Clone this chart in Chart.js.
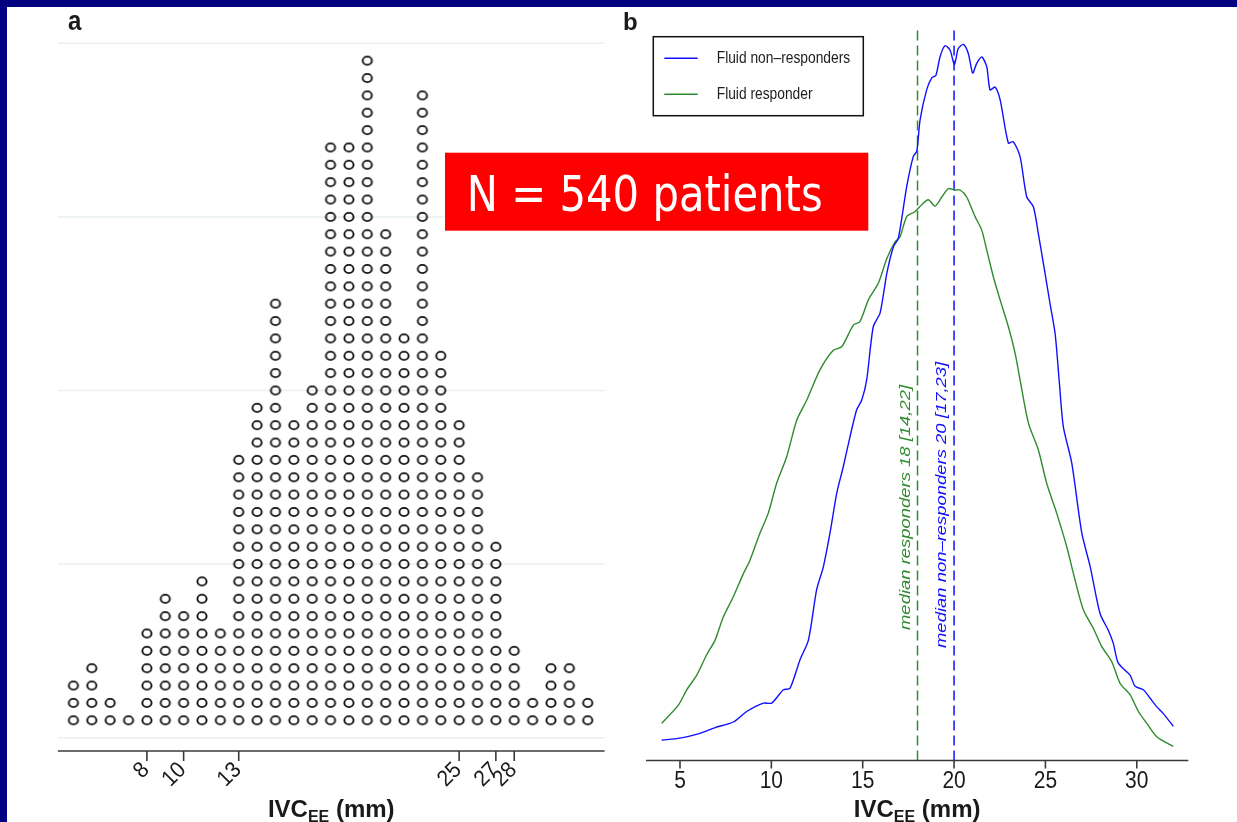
<!DOCTYPE html>
<html>
<head>
<meta charset="utf-8">
<script src="https://cdn.jsdelivr.net/npm/chart.js@4.4.1/dist/chart.umd.min.js"></script>
<style>
  html, body { margin: 0; padding: 0; background: #000080; }
  #page { position: relative; width: 1237px; height: 822px; overflow: hidden; }
  #sheet { position: absolute; left: 7px; top: 7px; right: 0; bottom: 0; background: #fff; }
  canvas { position: absolute; left: 0; top: 0; }
</style>
</head>
<body>
<div id="page">
  <div id="sheet"></div>
  <canvas id="dots" width="1237" height="822"></canvas>
  <canvas id="dens" width="1237" height="822"></canvas>
</div>
<script>
// panel a: one circle per patient, stacked per IVC value (mm)
var ivcValues = [4, 5, 6, 7, 8, 9, 10, 11, 12, 13, 14, 15, 16, 17, 18, 19, 20, 21, 22, 23, 24, 25, 26, 27, 28, 29, 30, 31, 32];
var dotCounts = [3, 4, 2, 1, 6, 8, 7, 9, 6, 16, 19, 25, 18, 20, 34, 34, 39, 29, 23, 37, 22, 18, 15, 11, 5, 2, 4, 4, 2];
var dotTicks = [8, 10, 13, 25, 27, 28];
var dotGrid = [0, 10, 20, 30, 40];

// panel b: density curves
var nonRespX = [4.00, 5.00, 6.00, 6.92, 7.92, 8.65, 9.56, 10.02, 10.66, 11.02, 11.57, 12.03, 12.48, 12.85, 13.21, 13.58, 13.94, 14.31, 14.67, 14.95, 15.22, 15.58, 15.95, 16.32, 16.68, 16.95, 17.41, 17.77, 17.96, 18.14, 18.50, 18.78, 19.01, 19.23, 19.50, 19.78, 20.02, 20.23, 20.51, 20.78, 21.02, 21.24, 21.52, 21.79, 21.97, 22.24, 22.52, 22.97, 23.24, 23.61, 23.98, 24.34, 24.61, 24.98, 25.25, 25.53, 25.75, 25.98, 26.44, 26.99, 27.45, 27.99, 28.44, 28.72, 28.99, 29.63, 29.91, 30.36, 30.73, 31.09, 31.45, 32.00];
var nonRespY = [0.0029, 0.0032, 0.0038, 0.0047, 0.0055, 0.0070, 0.0082, 0.0082, 0.0101, 0.0103, 0.0144, 0.0172, 0.0244, 0.0277, 0.0325, 0.0382, 0.0420, 0.0463, 0.0501, 0.0515, 0.0544, 0.0620, 0.0639, 0.0696, 0.0734, 0.0746, 0.0820, 0.0863, 0.0870, 0.0915, 0.0958, 0.0975, 0.0979, 0.1005, 0.1021, 0.1015, 0.0994, 0.1017, 0.1023, 0.1010, 0.0982, 0.0996, 0.1005, 0.0991, 0.0958, 0.0962, 0.0944, 0.0882, 0.0884, 0.0863, 0.0805, 0.0791, 0.0753, 0.0696, 0.0653, 0.0610, 0.0544, 0.0477, 0.0425, 0.0325, 0.0277, 0.0210, 0.0186, 0.0167, 0.0139, 0.0122, 0.0106, 0.0101, 0.0089, 0.0077, 0.0067, 0.0049];
var respX = [4.00, 4.91, 5.37, 5.92, 6.46, 6.92, 7.37, 7.92, 8.47, 8.83, 9.38, 9.83, 10.29, 10.84, 11.39, 11.94, 12.66, 13.39, 13.85, 14.49, 14.85, 15.31, 15.86, 16.32, 16.77, 17.04, 17.41, 17.86, 18.23, 18.59, 18.96, 19.33, 19.69, 20.05, 20.33, 20.69, 21.15, 21.51, 21.79, 22.15, 22.52, 22.97, 23.34, 23.61, 24.07, 24.61, 25.07, 25.62, 26.17, 26.62, 27.08, 27.62, 28.08, 28.63, 29.09, 29.63, 30.09, 30.55, 31.09, 32.00];
var respY = [0.0053, 0.0079, 0.0101, 0.0122, 0.0151, 0.0172, 0.0205, 0.0234, 0.0267, 0.0286, 0.0325, 0.0353, 0.0396, 0.0434, 0.0486, 0.0515, 0.0558, 0.0586, 0.0591, 0.0622, 0.0627, 0.0658, 0.0682, 0.0717, 0.0741, 0.0748, 0.0777, 0.0784, 0.0794, 0.0801, 0.0792, 0.0805, 0.0817, 0.0815, 0.0815, 0.0805, 0.0777, 0.0758, 0.0729, 0.0691, 0.0658, 0.0620, 0.0582, 0.0544, 0.0482, 0.0444, 0.0396, 0.0353, 0.0305, 0.0258, 0.0215, 0.0189, 0.0163, 0.0141, 0.0110, 0.0094, 0.0070, 0.0053, 0.0034, 0.0020];
var densTicks = [5, 10, 15, 20, 25, 30];
var medianResp = 18;
var medianNonResp = 20;
var densTop = 0.10464;

var BLUE = "#1010ff";
var GREEN = "#2e8b2e";
var AXIS = "#3a3a3a";
var FONT = "'Liberation Sans', Arial, sans-serif";

function drawText(ctx, s, x, y, o) {
  ctx.save();
  ctx.translate(x, y);
  if (o.rot) ctx.rotate(o.rot);
  ctx.scale(o.sx || 1, o.sy || 1);
  ctx.font = o.font;
  ctx.fillStyle = o.color || "#222";
  ctx.textAlign = o.align || "left";
  ctx.textBaseline = o.base || "alphabetic";
  ctx.fillText(s, 0, 0);
  ctx.restore();
}

function drawTitle(ctx, cx, baseY) {
  var big = "bold 24px " + FONT, small = "bold 16px " + FONT;
  ctx.save();
  ctx.font = big;
  var w1 = ctx.measureText("IVC").width;
  var w3 = ctx.measureText(" (mm)").width;
  ctx.font = small;
  var w2 = ctx.measureText("EE").width;
  ctx.restore();
  var x = cx - (w1 + w2 + w3) / 2;
  drawText(ctx, "IVC", x, baseY, { font: big, color: "#1a1a1a" });
  drawText(ctx, "EE", x + w1, baseY + 4.5, { font: small, color: "#1a1a1a" });
  drawText(ctx, " (mm)", x + w1 + w2, baseY, { font: big, color: "#1a1a1a" });
}

function hLine(ctx, x1, x2, y, color, w) {
  ctx.save();
  ctx.strokeStyle = color;
  ctx.lineWidth = w;
  ctx.beginPath();
  ctx.moveTo(x1, y);
  ctx.lineTo(x2, y);
  ctx.stroke();
  ctx.restore();
}

// open circle, a little flatter than wide like the original
var dotImg = document.createElement("canvas");
dotImg.width = 14;
dotImg.height = 14;
(function () {
  var c = dotImg.getContext("2d");
  c.strokeStyle = "#111";
  c.lineWidth = 1.9;
  c.beginPath();
  c.ellipse(7, 7, 4.6, 4.1, 0, 0, Math.PI * 2);
  c.stroke();
})();

var dotPoints = [];
ivcValues.forEach(function (v, i) {
  for (var k = 1; k <= dotCounts[i]; k++) dotPoints.push({ x: v, y: k });
});

var dotAxes = {
  id: "dotAxes",
  beforeDatasetsDraw: function (chart) {
    var ctx = chart.ctx, xs = chart.scales.x, ys = chart.scales.y;
    dotGrid.forEach(function (g) {
      hLine(ctx, xs.left, xs.right, ys.getPixelForValue(g), "#e9f0f0", 1.5);
    });
  },
  afterDraw: function (chart) {
    var ctx = chart.ctx, xs = chart.scales.x, ys = chart.scales.y;
    var y0 = ys.bottom;
    hLine(ctx, xs.left, xs.right, y0, AXIS, 1.6);
    ctx.save();
    ctx.strokeStyle = AXIS;
    ctx.lineWidth = 1.6;
    dotTicks.forEach(function (t) {
      var px = xs.getPixelForValue(t);
      ctx.beginPath();
      ctx.moveTo(px, y0);
      ctx.lineTo(px, y0 + 10);
      ctx.stroke();
    });
    ctx.restore();
    dotTicks.forEach(function (t) {
      var px = xs.getPixelForValue(t);
      drawText(ctx, String(t), px - 1, y0 + 15.5, {
        font: "21px " + FONT, color: "#1a1a1a", align: "right", base: "middle", rot: -Math.PI / 4, sy: 1.08
      });
    });
    drawTitle(ctx, (xs.left + xs.right) / 2, 817);
    drawText(ctx, "a", 68, 30, { font: "bold 24px " + FONT, color: "#1a1a1a", sy: 1.15 });
  }
};

new Chart(document.getElementById("dots"), {
  type: "scatter",
  data: {
    datasets: [{
      data: dotPoints,
      pointStyle: dotImg,
      pointRadius: 5,
      clip: false
    }]
  },
  options: {
    responsive: false,
    animation: false,
    devicePixelRatio: 1,
    layout: { padding: { left: 57.9, right: 1237 - 604.6, top: 43.3, bottom: 822 - 751 } },
    plugins: { legend: { display: false }, tooltip: { enabled: false } },
    scales: {
      x: { type: "linear", display: false, min: 3.155, max: 32.92 },
      y: { type: "linear", display: false, min: -0.77, max: 40 }
    }
  },
  plugins: [dotAxes]
});

function pairs(xs, ys) {
  return xs.map(function (x, i) { return { x: x, y: ys[i] }; });
}

var densAxes = {
  id: "densAxes",
  afterDraw: function (chart) {
    var ctx = chart.ctx, xs = chart.scales.x, ys = chart.scales.y;
    var y0 = ys.bottom;
    hLine(ctx, xs.left, xs.right, y0, AXIS, 1.6);
    ctx.save();
    ctx.strokeStyle = AXIS;
    ctx.lineWidth = 1.6;
    densTicks.forEach(function (t) {
      var px = xs.getPixelForValue(t);
      ctx.beginPath();
      ctx.moveTo(px, y0);
      ctx.lineTo(px, y0 + 8);
      ctx.stroke();
    });
    ctx.restore();
    densTicks.forEach(function (t) {
      drawText(ctx, String(t), xs.getPixelForValue(t), y0 + 21.5, {
        font: "21px " + FONT, color: "#1a1a1a", align: "center", base: "middle", sy: 1.1
      });
    });
    drawTitle(ctx, (xs.left + xs.right) / 2, 817);
    drawText(ctx, "b", 623, 30, { font: "bold 24px " + FONT, color: "#1a1a1a" });

    // median labels, reading upwards beside the dashed lines
    drawText(ctx, "median responders 18 [14,22]", xs.getPixelForValue(medianResp) - 11.5, 630, {
      font: "italic 15px " + FONT, color: GREEN, base: "middle", rot: -Math.PI / 2, sx: 1.23
    });
    drawText(ctx, "median non\u2013responders 20 [17,23]", xs.getPixelForValue(medianNonResp) - 12, 648, {
      font: "italic 15px " + FONT, color: BLUE, base: "middle", rot: -Math.PI / 2, sx: 1.23
    });

    // legend box
    ctx.save();
    ctx.strokeStyle = "#111";
    ctx.lineWidth = 1.5;
    ctx.strokeRect(653.3, 36.7, 210, 79);
    ctx.restore();
    hLine(ctx, 664.3, 697.7, 58.3, BLUE, 1.5);
    hLine(ctx, 664.3, 697.7, 94.3, GREEN, 1.5);
    drawText(ctx, "Fluid non\u2013responders", 716.7, 58.5, { font: "13.8px " + FONT, color: "#1e1e1e", base: "middle", sy: 1.2 });
    drawText(ctx, "Fluid responder", 716.7, 94.5, { font: "13.8px " + FONT, color: "#1e1e1e", base: "middle", sy: 1.2 });

    // red annotation box
    ctx.save();
    ctx.fillStyle = "#ff0000";
    ctx.fillRect(445, 152.7, 423.3, 78);
    ctx.font = "49px 'DejaVu Sans', sans-serif";
    var tw = ctx.measureText("N = 540 patients").width;
    ctx.restore();
    drawText(ctx, "N = 540 patients", 466.7, 211, {
      font: "49px 'DejaVu Sans', sans-serif", color: "#ffffff", sx: 356 / tw
    });
  }
};

new Chart(document.getElementById("dens"), {
  type: "line",
  data: {
    datasets: [
      { label: "Fluid non\u2013responders", data: pairs(nonRespX, nonRespY), borderColor: BLUE, borderWidth: 1.4, pointRadius: 0, tension: 0.25, fill: false },
      { label: "Fluid responder", data: pairs(respX, respY), borderColor: GREEN, borderWidth: 1.4, pointRadius: 0, tension: 0.25, fill: false },
      { label: "median responders", data: [{ x: medianResp, y: 0 }, { x: medianResp, y: densTop }], borderColor: GREEN, borderWidth: 1.5, borderDash: [10, 5], pointRadius: 0 },
      { label: "median non-responders", data: [{ x: medianNonResp, y: 0 }, { x: medianNonResp, y: densTop }], borderColor: BLUE, borderWidth: 1.5, borderDash: [10, 5], pointRadius: 0 }
    ]
  },
  options: {
    responsive: false,
    animation: false,
    devicePixelRatio: 1,
    layout: { padding: { left: 646, right: 1237 - 1188.3, top: 28, bottom: 822 - 760.5 } },
    plugins: { legend: { display: false }, tooltip: { enabled: false } },
    scales: {
      x: { type: "linear", display: false, min: 3.14, max: 32.82 },
      y: { type: "linear", display: false, min: 0, max: densTop }
    }
  },
  plugins: [densAxes]
});
</script>
</body>
</html>
